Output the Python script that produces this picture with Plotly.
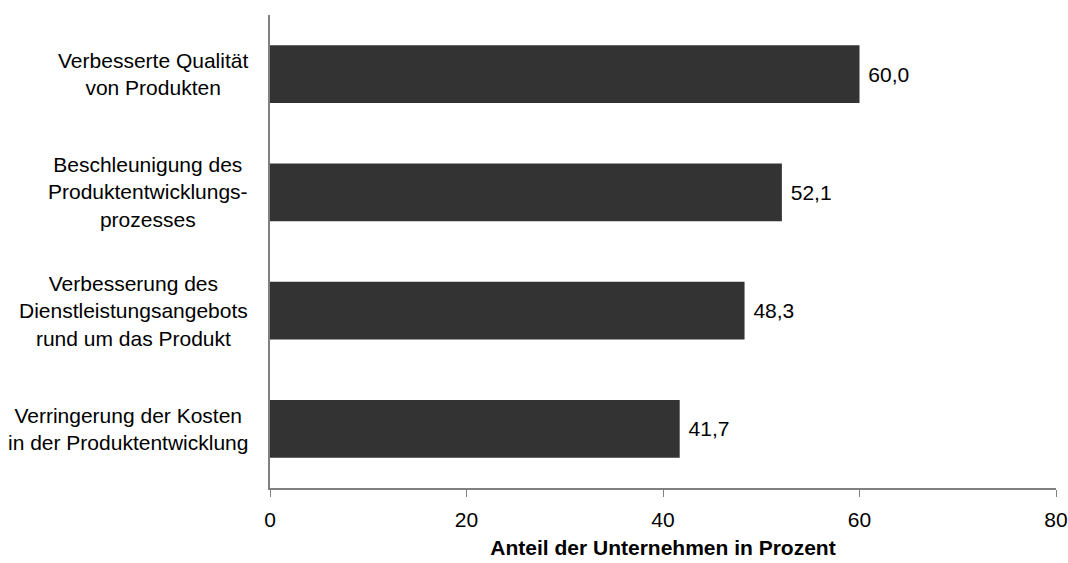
import plotly.graph_objects as go

categories = [
    "Verbesserte Qualität<br>von Produkten",
    "Beschleunigung des<br>Produktentwicklungs-<br>prozesses",
    "Verbesserung des<br>Dienstleistungsangebots<br>rund um das Produkt",
    "Verringerung der Kosten<br>in der Produktentwicklung",
]
values = [60.0, 52.1, 48.3, 41.7]
x_ticks = [0, 20, 40, 60, 80]

FONT = "Liberation Sans, Arial, sans-serif"
FS = 21

fig = go.Figure()
fig.add_trace(go.Bar(
    y=categories,
    x=values,
    orientation="h",
    marker=dict(color="#333333", line=dict(width=0)),
    width=0.49,
    texttemplate="\u00a0%{x:.1f}",
    textposition="outside",
    textfont=dict(family=FONT, size=FS, color="#000000"),
    cliponaxis=False,
    hoverinfo="skip",
))

for cat in categories:
    fig.add_annotation(
        x=0, xref="paper", y=cat, yref="y",
        text=cat, showarrow=False, xanchor="right", align="center",
        xshift=-20,
        font=dict(family=FONT, size=FS, color="#000000"),
    )

fig.update_layout(
    width=1068, height=563,
    margin=dict(l=270, r=12, t=15, b=75, autoexpand=False),
    plot_bgcolor="white", paper_bgcolor="white",
    separators=",.",
    showlegend=False,
    font=dict(family=FONT, size=FS, color="#000000"),
)
fig.update_yaxes(
    categoryorder="array", categoryarray=categories[::-1],
    showticklabels=False, showgrid=False, zeroline=False,
    showline=True, linecolor="#808080", linewidth=1.5, ticks="",
    automargin=False,
)
fig.update_xaxes(
    range=[0, 80], tickvals=x_ticks, ticktext=[str(t) for t in x_ticks],
    showgrid=False, zeroline=False,
    showline=True, linecolor="#808080", linewidth=1.5,
    ticks="outside", ticklen=7, tickcolor="#808080",
    tickfont=dict(family=FONT, size=FS, color="#000000"),
    ticklabelstandoff=5,
    automargin=False,
    title=dict(text="<b>Anteil der Unternehmen in Prozent</b>",
               font=dict(family=FONT, size=FS, color="#000000"), standoff=10),
)

fig.write_html("out.html")
